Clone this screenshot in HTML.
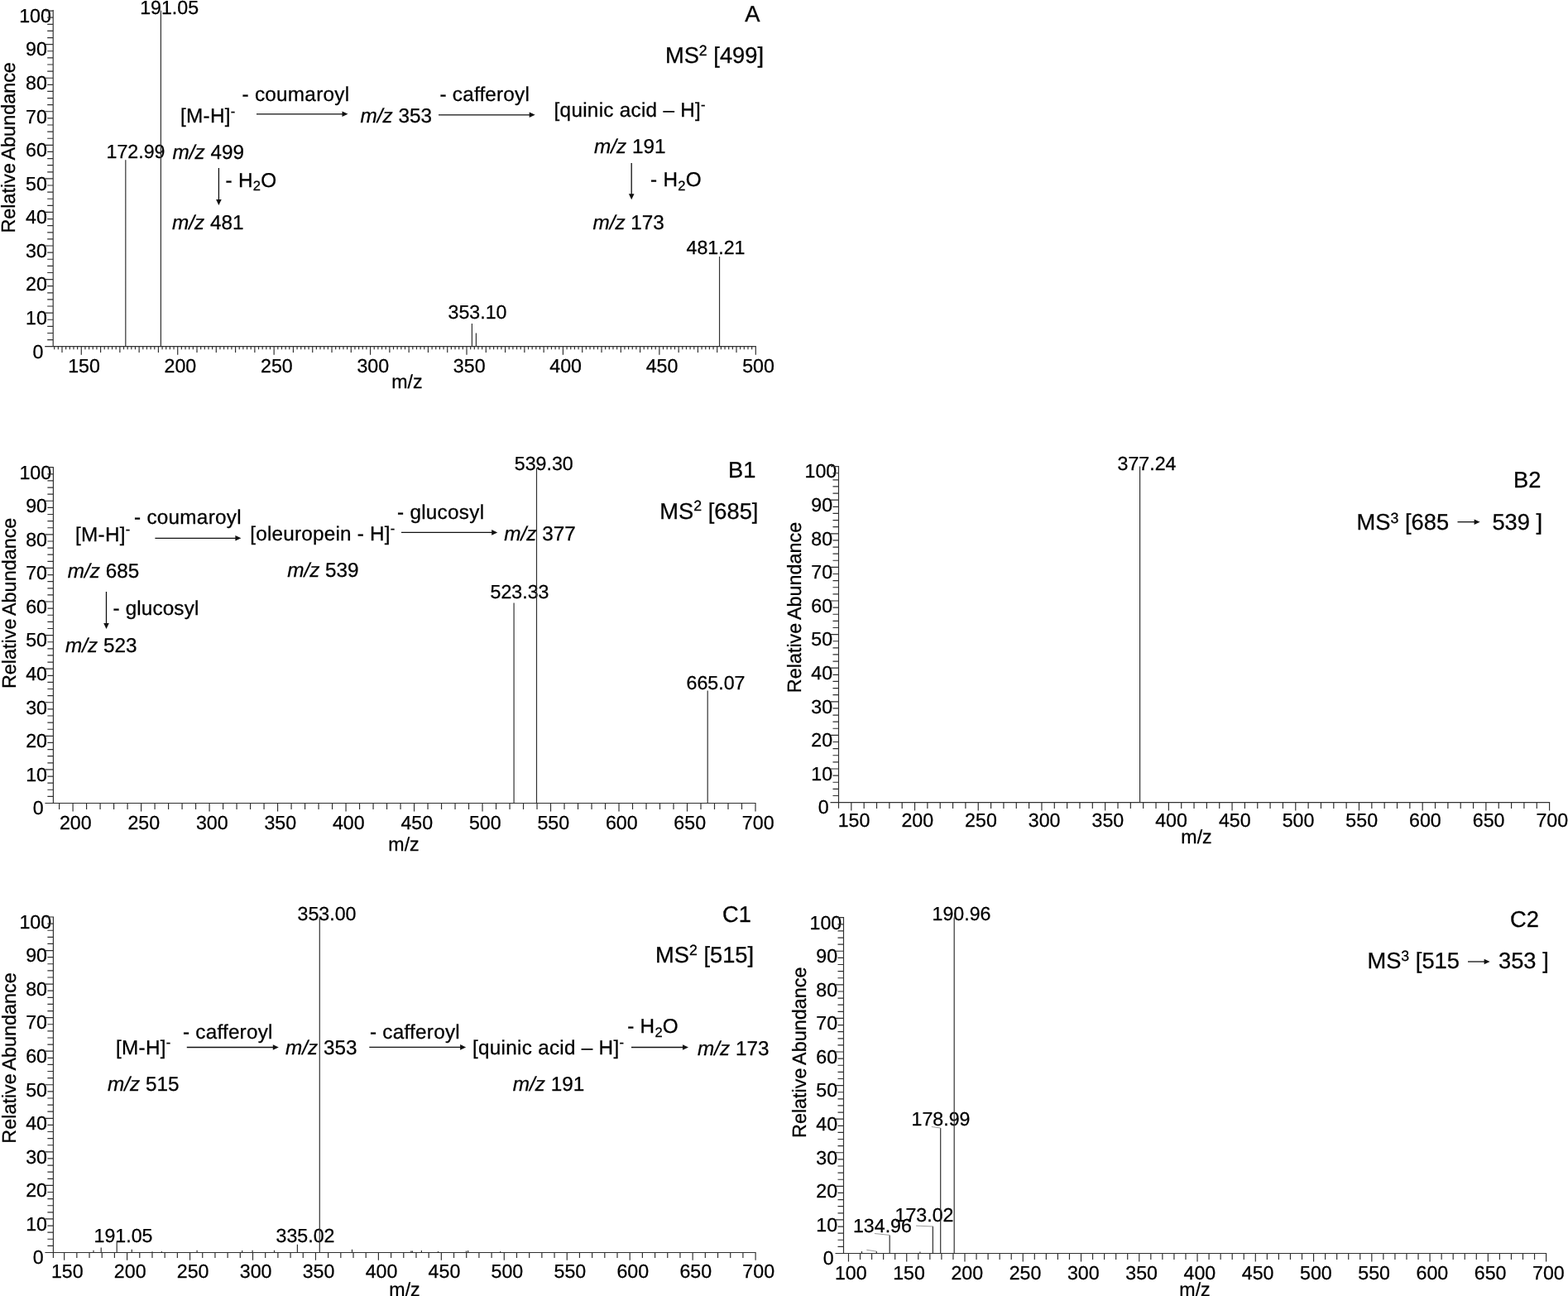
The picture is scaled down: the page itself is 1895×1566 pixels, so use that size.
<!DOCTYPE html>
<html lang="en">
<head>
<meta charset="utf-8">
<title>MS fragmentation spectra</title>
<style>
html, body { margin: 0; padding: 0; background: #ffffff; }
body { width: 1895px; height: 1566px; overflow: hidden; }
svg { display: block; font-family: "Liberation Sans", Arial, Helvetica, sans-serif; }
svg text { white-space: pre; fill: #000; stroke: #000; stroke-width: 0.28px; text-anchor: start; }
svg text.t { font-size: 23.2px; }
svg text.r { font-size: 23.4px; }
svg text.a { font-size: 24.3px; }
svg text.b { font-size: 27.3px; }
svg text.m { text-anchor: middle; }
svg i, svg .i { font-style: italic; }
</style>
</head>
<body>
<svg width="1895" height="1566" viewBox="0 0 1895 1566" shape-rendering="auto" text-rendering="geometricPrecision">
<rect x="0" y="0" width="1895" height="1566" fill="#ffffff"/>
<text class="t" transform="translate(39.5 432.5)">0</text>
<text class="t" transform="translate(31 391.94)">10</text>
<text class="t" transform="translate(31 351.38)">20</text>
<text class="t" transform="translate(31 310.82)">30</text>
<text class="t" transform="translate(31 270.26)">40</text>
<text class="t" transform="translate(31 229.7)">50</text>
<text class="t" transform="translate(31 189.14)">60</text>
<text class="t" transform="translate(31 148.58)">70</text>
<text class="t" transform="translate(31 108.02)">80</text>
<text class="t" transform="translate(31 67.46)">90</text>
<text class="t" transform="translate(23.2 26.9)">100</text>
<text class="t m" transform="translate(101.49 450.2)">150</text>
<text class="t m" transform="translate(217.92 450.2)">200</text>
<text class="t m" transform="translate(334.35 450.2)">250</text>
<text class="t m" transform="translate(450.78 450.2)">300</text>
<text class="t m" transform="translate(567.21 450.2)">350</text>
<text class="t m" transform="translate(683.64 450.2)">400</text>
<text class="t m" transform="translate(800.07 450.2)">450</text>
<text class="t m" transform="translate(916.5 450.2)">500</text>
<text class="t m" transform="translate(491.8 468.8)">m/z</text>
<text class="r" transform="translate(18.3 281.6) rotate(-90)">Relative <tspan dx="-1.6">Abundance</tspan></text>
<text class="t m" transform="translate(164 190.6)">172.99</text>
<text class="t m" transform="translate(204.6 17)">191.05</text>
<text class="t m" transform="translate(577 385)">353.10</text>
<text class="t m" transform="translate(865 307)">481.21</text>
<path class="axes" d="M64.2 12V419.3M54.2 418.7H913.9M57.2 410.59H64.2M57.2 402.48H64.2M57.2 394.36H64.2M57.2 386.25H64.2M54.7 378.14H64.2M57.2 370.03H64.2M57.2 361.92H64.2M57.2 353.8H64.2M57.2 345.69H64.2M54.7 337.58H64.2M57.2 329.47H64.2M57.2 321.36H64.2M57.2 313.24H64.2M57.2 305.13H64.2M54.7 297.02H64.2M57.2 288.91H64.2M57.2 280.8H64.2M57.2 272.68H64.2M57.2 264.57H64.2M54.7 256.46H64.2M57.2 248.35H64.2M57.2 240.24H64.2M57.2 232.12H64.2M57.2 224.01H64.2M54.7 215.9H64.2M57.2 207.79H64.2M57.2 199.68H64.2M57.2 191.56H64.2M57.2 183.45H64.2M54.7 175.34H64.2M57.2 167.23H64.2M57.2 159.12H64.2M57.2 151H64.2M57.2 142.89H64.2M54.7 134.78H64.2M57.2 126.67H64.2M57.2 118.56H64.2M57.2 110.44H64.2M57.2 102.33H64.2M54.7 94.22H64.2M57.2 86.11H64.2M57.2 78H64.2M57.2 69.88H64.2M57.2 61.77H64.2M54.7 53.66H64.2M57.2 45.55H64.2M57.2 37.44H64.2M57.2 29.32H64.2M57.2 21.21H64.2M54.7 13.1H64.2M65.69 418.7V422.3M70.35 418.7V422.3M75 418.7V426.1M79.66 418.7V422.3M84.32 418.7V422.3M88.98 418.7V422.3M93.63 418.7V422.3M98.29 418.7V428.7M102.95 418.7V422.3M107.6 418.7V422.3M112.26 418.7V422.3M116.92 418.7V422.3M121.58 418.7V426.1M126.23 418.7V422.3M130.89 418.7V422.3M135.55 418.7V422.3M140.2 418.7V422.3M144.86 418.7V426.1M149.52 418.7V422.3M154.18 418.7V422.3M158.83 418.7V422.3M163.49 418.7V422.3M168.15 418.7V426.1M172.81 418.7V422.3M177.46 418.7V422.3M182.12 418.7V422.3M186.78 418.7V422.3M191.43 418.7V426.1M196.09 418.7V422.3M200.75 418.7V422.3M205.41 418.7V422.3M210.06 418.7V422.3M214.72 418.7V428.7M219.38 418.7V422.3M224.03 418.7V422.3M228.69 418.7V422.3M233.35 418.7V422.3M238.01 418.7V426.1M242.66 418.7V422.3M247.32 418.7V422.3M251.98 418.7V422.3M256.63 418.7V422.3M261.29 418.7V426.1M265.95 418.7V422.3M270.61 418.7V422.3M275.26 418.7V422.3M279.92 418.7V422.3M284.58 418.7V426.1M289.24 418.7V422.3M293.89 418.7V422.3M298.55 418.7V422.3M303.21 418.7V422.3M307.86 418.7V426.1M312.52 418.7V422.3M317.18 418.7V422.3M321.84 418.7V422.3M326.49 418.7V422.3M331.15 418.7V428.7M335.81 418.7V422.3M340.46 418.7V422.3M345.12 418.7V422.3M349.78 418.7V422.3M354.44 418.7V426.1M359.09 418.7V422.3M363.75 418.7V422.3M368.41 418.7V422.3M373.06 418.7V422.3M377.72 418.7V426.1M382.38 418.7V422.3M387.04 418.7V422.3M391.69 418.7V422.3M396.35 418.7V422.3M401.01 418.7V426.1M405.67 418.7V422.3M410.32 418.7V422.3M414.98 418.7V422.3M419.64 418.7V422.3M424.29 418.7V426.1M428.95 418.7V422.3M433.61 418.7V422.3M438.27 418.7V422.3M442.92 418.7V422.3M447.58 418.7V428.7M452.24 418.7V422.3M456.89 418.7V422.3M461.55 418.7V422.3M466.21 418.7V422.3M470.87 418.7V426.1M475.52 418.7V422.3M480.18 418.7V422.3M484.84 418.7V422.3M489.49 418.7V422.3M494.15 418.7V426.1M498.81 418.7V422.3M503.47 418.7V422.3M508.12 418.7V422.3M512.78 418.7V422.3M517.44 418.7V426.1M522.1 418.7V422.3M526.75 418.7V422.3M531.41 418.7V422.3M536.07 418.7V422.3M540.72 418.7V426.1M545.38 418.7V422.3M550.04 418.7V422.3M554.7 418.7V422.3M559.35 418.7V422.3M564.01 418.7V428.7M568.67 418.7V422.3M573.32 418.7V422.3M577.98 418.7V422.3M582.64 418.7V422.3M587.3 418.7V426.1M591.95 418.7V422.3M596.61 418.7V422.3M601.27 418.7V422.3M605.92 418.7V422.3M610.58 418.7V426.1M615.24 418.7V422.3M619.9 418.7V422.3M624.55 418.7V422.3M629.21 418.7V422.3M633.87 418.7V426.1M638.53 418.7V422.3M643.18 418.7V422.3M647.84 418.7V422.3M652.5 418.7V422.3M657.15 418.7V426.1M661.81 418.7V422.3M666.47 418.7V422.3M671.13 418.7V422.3M675.78 418.7V422.3M680.44 418.7V428.7M685.1 418.7V422.3M689.75 418.7V422.3M694.41 418.7V422.3M699.07 418.7V422.3M703.73 418.7V426.1M708.38 418.7V422.3M713.04 418.7V422.3M717.7 418.7V422.3M722.35 418.7V422.3M727.01 418.7V426.1M731.67 418.7V422.3M736.33 418.7V422.3M740.98 418.7V422.3M745.64 418.7V422.3M750.3 418.7V426.1M754.96 418.7V422.3M759.61 418.7V422.3M764.27 418.7V422.3M768.93 418.7V422.3M773.58 418.7V426.1M778.24 418.7V422.3M782.9 418.7V422.3M787.56 418.7V422.3M792.21 418.7V422.3M796.87 418.7V428.7M801.53 418.7V422.3M806.18 418.7V422.3M810.84 418.7V422.3M815.5 418.7V422.3M820.16 418.7V426.1M824.81 418.7V422.3M829.47 418.7V422.3M834.13 418.7V422.3M838.78 418.7V422.3M843.44 418.7V426.1M848.1 418.7V422.3M852.76 418.7V422.3M857.41 418.7V422.3M862.07 418.7V422.3M866.73 418.7V426.1M871.39 418.7V422.3M876.04 418.7V422.3M880.7 418.7V422.3M885.36 418.7V422.3M890.01 418.7V426.1M894.67 418.7V422.3M899.33 418.7V422.3M903.99 418.7V422.3M908.64 418.7V422.3M913.3 418.7V428.7M151.82 193.19V418.7M570.41 391.12V418.7M575.42 402.48V418.7M869.55 310V418.7M194.4 12.8V418.7" fill="none" stroke="#303030" stroke-width="1.18"/>
<text class="a" transform="translate(218 148.3)" letter-spacing="0.27">[M-H]<tspan font-size="0.68em" dy="-0.529em">-</tspan></text>
<text class="a" transform="translate(292.5 122)" letter-spacing="0.27">- coumaroyl</text>
<polygon points="420.50,137.80 413.50,134.50 413.50,141.10" fill="#111"/>
<text class="a" transform="translate(435.5 148)"><tspan class="i">m/z</tspan> 353</text>
<text class="a" transform="translate(531.6 121.7)" letter-spacing="0.2">- cafferoyl</text>
<polygon points="646.70,138.80 639.70,135.50 639.70,142.10" fill="#111"/>
<text class="a" transform="translate(669.6 141)" letter-spacing="0.27">[quinic acid – H]<tspan font-size="0.68em" dy="-0.529em">-</tspan></text>
<text class="a" transform="translate(208.6 192.3)"><tspan class="i">m/z</tspan> 499</text>
<polygon points="264.40,248.10 261.10,241.10 267.70,241.10" fill="#111"/>
<text class="a" transform="translate(272.6 225.6)" letter-spacing="0.27">- H<tspan font-size="0.68em" dy="0.294em">2</tspan><tspan dy="-0.200em">O</tspan></text>
<text class="a" transform="translate(208 277)"><tspan class="i">m/z</tspan> 481</text>
<text class="a" transform="translate(718 185.2)"><tspan class="i">m/z</tspan> 191</text>
<polygon points="763.20,241.30 759.90,234.30 766.50,234.30" fill="#111"/>
<text class="a" transform="translate(786 225.2)" letter-spacing="0.27">- H<tspan font-size="0.68em" dy="0.294em">2</tspan><tspan dy="-0.200em">O</tspan></text>
<text class="a" transform="translate(716.4 276.8)"><tspan class="i">m/z</tspan> 173</text>
<text class="b" transform="translate(900.2 25.8)">A</text>
<text class="b" transform="translate(803.9 75.7)">MS<tspan font-size="0.65em" dy="-0.515em">2</tspan><tspan dy="0.335em"> [499]</tspan></text>
<text class="t" transform="translate(39.7 984.3)">0</text>
<text class="t" transform="translate(31.2 943.72)">10</text>
<text class="t" transform="translate(31.2 903.14)">20</text>
<text class="t" transform="translate(31.2 862.56)">30</text>
<text class="t" transform="translate(31.2 821.98)">40</text>
<text class="t" transform="translate(31.2 781.4)">50</text>
<text class="t" transform="translate(31.2 740.82)">60</text>
<text class="t" transform="translate(31.2 700.24)">70</text>
<text class="t" transform="translate(31.2 659.66)">80</text>
<text class="t" transform="translate(31.2 619.08)">90</text>
<text class="t" transform="translate(23.4 578.5)">100</text>
<text class="t m" transform="translate(91.3 1001.8)">200</text>
<text class="t m" transform="translate(173.79 1001.8)">250</text>
<text class="t m" transform="translate(256.28 1001.8)">300</text>
<text class="t m" transform="translate(338.77 1001.8)">350</text>
<text class="t m" transform="translate(421.26 1001.8)">400</text>
<text class="t m" transform="translate(503.75 1001.8)">450</text>
<text class="t m" transform="translate(586.24 1001.8)">500</text>
<text class="t m" transform="translate(668.73 1001.8)">550</text>
<text class="t m" transform="translate(751.22 1001.8)">600</text>
<text class="t m" transform="translate(833.71 1001.8)">650</text>
<text class="t m" transform="translate(916.2 1001.8)">700</text>
<text class="t m" transform="translate(488 1028)">m/z</text>
<text class="r" transform="translate(18.5 832.1) rotate(-90)">Relative <tspan dx="-1.6">Abundance</tspan></text>
<text class="t m" transform="translate(628 723)">523.33</text>
<text class="t m" transform="translate(657.2 568.3)">539.30</text>
<text class="t m" transform="translate(865 833)">665.07</text>
<path class="axes" d="M310 137.8H414.5M530 138.8H640.7M264.4 203V242.1M763.2 197V235.3" fill="none" stroke="#111" stroke-width="1.3"/>
<path class="axes" d="M64.4 564.2V971.1M54.4 970.5H913.6M57.4 962.38H64.4M57.4 954.27H64.4M57.4 946.15H64.4M57.4 938.04H64.4M54.9 929.92H64.4M57.4 921.8H64.4M57.4 913.69H64.4M57.4 905.57H64.4M57.4 897.46H64.4M54.9 889.34H64.4M57.4 881.22H64.4M57.4 873.11H64.4M57.4 864.99H64.4M57.4 856.88H64.4M54.9 848.76H64.4M57.4 840.64H64.4M57.4 832.53H64.4M57.4 824.41H64.4M57.4 816.3H64.4M54.9 808.18H64.4M57.4 800.06H64.4M57.4 791.95H64.4M57.4 783.83H64.4M57.4 775.72H64.4M54.9 767.6H64.4M57.4 759.48H64.4M57.4 751.37H64.4M57.4 743.25H64.4M57.4 735.14H64.4M54.9 727.02H64.4M57.4 718.9H64.4M57.4 710.79H64.4M57.4 702.67H64.4M57.4 694.56H64.4M54.9 686.44H64.4M57.4 678.32H64.4M57.4 670.21H64.4M57.4 662.09H64.4M57.4 653.98H64.4M54.9 645.86H64.4M57.4 637.74H64.4M57.4 629.63H64.4M57.4 621.51H64.4M57.4 613.4H64.4M54.9 605.28H64.4M57.4 597.16H64.4M57.4 589.05H64.4M57.4 580.93H64.4M57.4 572.82H64.4M54.9 564.7H64.4M71.6 970.5V977.9M88.1 970.5V980.5M104.6 970.5V977.9M121.1 970.5V977.9M137.59 970.5V977.9M154.09 970.5V977.9M170.59 970.5V980.5M187.09 970.5V977.9M203.59 970.5V977.9M220.08 970.5V977.9M236.58 970.5V977.9M253.08 970.5V980.5M269.58 970.5V977.9M286.08 970.5V977.9M302.57 970.5V977.9M319.07 970.5V977.9M335.57 970.5V980.5M352.07 970.5V977.9M368.57 970.5V977.9M385.06 970.5V977.9M401.56 970.5V977.9M418.06 970.5V980.5M434.56 970.5V977.9M451.06 970.5V977.9M467.55 970.5V977.9M484.05 970.5V977.9M500.55 970.5V980.5M517.05 970.5V977.9M533.55 970.5V977.9M550.04 970.5V977.9M566.54 970.5V977.9M583.04 970.5V980.5M599.54 970.5V977.9M616.04 970.5V977.9M632.53 970.5V977.9M649.03 970.5V977.9M665.53 970.5V980.5M682.03 970.5V977.9M698.53 970.5V977.9M715.02 970.5V977.9M731.52 970.5V977.9M748.02 970.5V980.5M764.52 970.5V977.9M781.02 970.5V977.9M797.51 970.5V977.9M814.01 970.5V977.9M830.51 970.5V980.5M847.01 970.5V977.9M863.51 970.5V977.9M880 970.5V977.9M896.5 970.5V977.9M913 970.5V980.5M621.1 728.4V970.5M648.5 565.4V970.5M855.2 834.5V970.5" fill="none" stroke="#303030" stroke-width="1.18"/>
<text class="a" transform="translate(91 653.5)" letter-spacing="0.27">[M-H]<tspan font-size="0.68em" dy="-0.529em">-</tspan></text>
<text class="a" transform="translate(162 633.2)" letter-spacing="0.27">- coumaroyl</text>
<polygon points="291.40,650.30 284.40,647.00 284.40,653.60" fill="#111"/>
<text class="a" transform="translate(302.3 653.2)" letter-spacing="0.2">[oleuropein - H]<tspan font-size="0.68em" dy="-0.529em">-</tspan></text>
<text class="a" transform="translate(480 627)" letter-spacing="0.27">- glucosyl</text>
<polygon points="601.20,643.40 594.20,640.10 594.20,646.70" fill="#111"/>
<text class="a" transform="translate(609.3 653.2)"><tspan class="i">m/z</tspan> 377</text>
<text class="a" transform="translate(81.8 697.5)"><tspan class="i">m/z</tspan> 685</text>
<text class="a" transform="translate(347.2 697.4)"><tspan class="i">m/z</tspan> 539</text>
<polygon points="128.50,760.00 125.20,753.00 131.80,753.00" fill="#111"/>
<text class="a" transform="translate(136.6 743.2)" letter-spacing="0.12">- glucosyl</text>
<text class="a" transform="translate(79 788)"><tspan class="i">m/z</tspan> 523</text>
<text class="b" transform="translate(880 576.6)">B1</text>
<text class="b" transform="translate(797.3 626.5)">MS<tspan font-size="0.65em" dy="-0.515em">2</tspan><tspan dy="0.335em"> [685]</tspan></text>
<text class="t" transform="translate(988.8 983.4)">0</text>
<text class="t" transform="translate(980.3 942.8)">10</text>
<text class="t" transform="translate(980.3 902.2)">20</text>
<text class="t" transform="translate(980.3 861.6)">30</text>
<text class="t" transform="translate(980.3 821)">40</text>
<text class="t" transform="translate(980.3 780.4)">50</text>
<text class="t" transform="translate(980.3 739.8)">60</text>
<text class="t" transform="translate(980.3 699.2)">70</text>
<text class="t" transform="translate(980.3 658.6)">80</text>
<text class="t" transform="translate(980.3 618)">90</text>
<text class="t" transform="translate(972.5 577.4)">100</text>
<text class="t m" transform="translate(1032.04 999.3)">150</text>
<text class="t m" transform="translate(1108.75 999.3)">200</text>
<text class="t m" transform="translate(1185.45 999.3)">250</text>
<text class="t m" transform="translate(1262.16 999.3)">300</text>
<text class="t m" transform="translate(1338.87 999.3)">350</text>
<text class="t m" transform="translate(1415.57 999.3)">400</text>
<text class="t m" transform="translate(1492.27 999.3)">450</text>
<text class="t m" transform="translate(1568.98 999.3)">500</text>
<text class="t m" transform="translate(1645.68 999.3)">550</text>
<text class="t m" transform="translate(1722.39 999.3)">600</text>
<text class="t m" transform="translate(1799.1 999.3)">650</text>
<text class="t m" transform="translate(1875.8 999.3)">700</text>
<text class="t m" transform="translate(1446 1019)">m/z</text>
<text class="r" transform="translate(967.6 837.2) rotate(-90)">Relative <tspan dx="-1.6">Abundance</tspan></text>
<text class="t m" transform="translate(1386 568)">377.24</text>
<path class="axes" d="M187.4 650.3H285.4M485 643.4H595.2M128.5 715V754" fill="none" stroke="#111" stroke-width="1.3"/>
<path class="axes" d="M1013.5 563V976.8M1003.5 969.6H1873.2M1006.5 961.48H1013.5M1006.5 953.36H1013.5M1006.5 945.24H1013.5M1006.5 937.12H1013.5M1004 929H1013.5M1006.5 920.88H1013.5M1006.5 912.76H1013.5M1006.5 904.64H1013.5M1006.5 896.52H1013.5M1004 888.4H1013.5M1006.5 880.28H1013.5M1006.5 872.16H1013.5M1006.5 864.04H1013.5M1006.5 855.92H1013.5M1004 847.8H1013.5M1006.5 839.68H1013.5M1006.5 831.56H1013.5M1006.5 823.44H1013.5M1006.5 815.32H1013.5M1004 807.2H1013.5M1006.5 799.08H1013.5M1006.5 790.96H1013.5M1006.5 782.84H1013.5M1006.5 774.72H1013.5M1004 766.6H1013.5M1006.5 758.48H1013.5M1006.5 750.36H1013.5M1006.5 742.24H1013.5M1006.5 734.12H1013.5M1004 726H1013.5M1006.5 717.88H1013.5M1006.5 709.76H1013.5M1006.5 701.64H1013.5M1006.5 693.52H1013.5M1004 685.4H1013.5M1006.5 677.28H1013.5M1006.5 669.16H1013.5M1006.5 661.04H1013.5M1006.5 652.92H1013.5M1004 644.8H1013.5M1006.5 636.68H1013.5M1006.5 628.56H1013.5M1006.5 620.44H1013.5M1006.5 612.32H1013.5M1004 604.2H1013.5M1006.5 596.08H1013.5M1006.5 587.96H1013.5M1006.5 579.84H1013.5M1006.5 571.72H1013.5M1004 563.6H1013.5M1028.84 969.6V979.6M1044.19 969.6V977M1059.53 969.6V977M1074.87 969.6V977M1090.21 969.6V977M1105.55 969.6V979.6M1120.89 969.6V977M1136.23 969.6V977M1151.57 969.6V977M1166.91 969.6V977M1182.25 969.6V979.6M1197.6 969.6V977M1212.94 969.6V977M1228.28 969.6V977M1243.62 969.6V977M1258.96 969.6V979.6M1274.3 969.6V977M1289.64 969.6V977M1304.98 969.6V977M1320.32 969.6V977M1335.66 969.6V979.6M1351.01 969.6V977M1366.35 969.6V977M1381.69 969.6V977M1397.03 969.6V977M1412.37 969.6V979.6M1427.71 969.6V977M1443.05 969.6V977M1458.39 969.6V977M1473.73 969.6V977M1489.07 969.6V979.6M1504.42 969.6V977M1519.76 969.6V977M1535.1 969.6V977M1550.44 969.6V977M1565.78 969.6V979.6M1581.12 969.6V977M1596.46 969.6V977M1611.8 969.6V977M1627.14 969.6V977M1642.48 969.6V979.6M1657.83 969.6V977M1673.17 969.6V977M1688.51 969.6V977M1703.85 969.6V977M1719.19 969.6V979.6M1734.53 969.6V977M1749.87 969.6V977M1765.21 969.6V977M1780.55 969.6V977M1795.89 969.6V979.6M1811.24 969.6V977M1826.58 969.6V977M1841.92 969.6V977M1857.26 969.6V977M1872.6 969.6V979.6M1377.6 563.5V969.6" fill="none" stroke="#303030" stroke-width="1.18"/>
<text class="b" transform="translate(1829 589.2)">B2</text>
<text class="b" transform="translate(1639.6 639.5)">MS<tspan font-size="0.65em" dy="-0.415em">3</tspan><tspan dy="0.270em"> [685</tspan></text>
<polygon points="1788.60,630.70 1781.60,627.40 1781.60,634.00" fill="#111"/>
<text class="b" transform="translate(1803.4 639.5)">539 ]</text>
<text class="t" transform="translate(39.7 1527.3)">0</text>
<text class="t" transform="translate(31.2 1486.75)">10</text>
<text class="t" transform="translate(31.2 1446.2)">20</text>
<text class="t" transform="translate(31.2 1405.65)">30</text>
<text class="t" transform="translate(31.2 1365.1)">40</text>
<text class="t" transform="translate(31.2 1324.55)">50</text>
<text class="t" transform="translate(31.2 1284)">60</text>
<text class="t" transform="translate(31.2 1243.45)">70</text>
<text class="t" transform="translate(31.2 1202.9)">80</text>
<text class="t" transform="translate(31.2 1162.35)">90</text>
<text class="t" transform="translate(23.4 1121.8)">100</text>
<text class="t m" transform="translate(81.25 1543.7)">150</text>
<text class="t m" transform="translate(157.2 1543.7)">200</text>
<text class="t m" transform="translate(233.15 1543.7)">250</text>
<text class="t m" transform="translate(309.1 1543.7)">300</text>
<text class="t m" transform="translate(385.05 1543.7)">350</text>
<text class="t m" transform="translate(461 1543.7)">400</text>
<text class="t m" transform="translate(536.95 1543.7)">450</text>
<text class="t m" transform="translate(612.9 1543.7)">500</text>
<text class="t m" transform="translate(688.85 1543.7)">550</text>
<text class="t m" transform="translate(764.8 1543.7)">600</text>
<text class="t m" transform="translate(840.75 1543.7)">650</text>
<text class="t m" transform="translate(916.7 1543.7)">700</text>
<text class="t m" transform="translate(489 1565.5)">m/z</text>
<text class="r" transform="translate(18.5 1381.7) rotate(-90)">Relative <tspan dx="-1.6">Abundance</tspan></text>
<text class="t m" transform="translate(149 1501.2)">191.05</text>
<text class="t m" transform="translate(369 1501)">335.02</text>
<text class="t m" transform="translate(395 1112)">353.00</text>
<path class="axes" d="M1761.5 630.7H1782.6" fill="none" stroke="#111" stroke-width="1.3"/>
<path class="axes" d="M64.4 1107.5V1520M54.4 1513.5H913.7M57.4 1505.39H64.4M57.4 1497.28H64.4M57.4 1489.17H64.4M57.4 1481.06H64.4M54.9 1472.95H64.4M57.4 1464.84H64.4M57.4 1456.73H64.4M57.4 1448.62H64.4M57.4 1440.51H64.4M54.9 1432.4H64.4M57.4 1424.29H64.4M57.4 1416.18H64.4M57.4 1408.07H64.4M57.4 1399.96H64.4M54.9 1391.85H64.4M57.4 1383.74H64.4M57.4 1375.63H64.4M57.4 1367.52H64.4M57.4 1359.41H64.4M54.9 1351.3H64.4M57.4 1343.19H64.4M57.4 1335.08H64.4M57.4 1326.97H64.4M57.4 1318.86H64.4M54.9 1310.75H64.4M57.4 1302.64H64.4M57.4 1294.53H64.4M57.4 1286.42H64.4M57.4 1278.31H64.4M54.9 1270.2H64.4M57.4 1262.09H64.4M57.4 1253.98H64.4M57.4 1245.87H64.4M57.4 1237.76H64.4M54.9 1229.65H64.4M57.4 1221.54H64.4M57.4 1213.43H64.4M57.4 1205.32H64.4M57.4 1197.21H64.4M54.9 1189.1H64.4M57.4 1180.99H64.4M57.4 1172.88H64.4M57.4 1164.77H64.4M57.4 1156.66H64.4M54.9 1148.55H64.4M57.4 1140.44H64.4M57.4 1132.33H64.4M57.4 1124.22H64.4M57.4 1116.11H64.4M54.9 1108H64.4M77.65 1513.5V1522.8M92.84 1513.5V1520M108.03 1513.5V1520M123.22 1513.5V1520M138.41 1513.5V1520M153.6 1513.5V1522.8M168.79 1513.5V1520M183.98 1513.5V1520M199.17 1513.5V1520M214.36 1513.5V1520M229.55 1513.5V1522.8M244.74 1513.5V1520M259.93 1513.5V1520M275.12 1513.5V1520M290.31 1513.5V1520M305.5 1513.5V1522.8M320.69 1513.5V1520M335.88 1513.5V1520M351.07 1513.5V1520M366.26 1513.5V1520M381.45 1513.5V1522.8M396.64 1513.5V1520M411.83 1513.5V1520M427.02 1513.5V1520M442.21 1513.5V1520M457.4 1513.5V1522.8M472.59 1513.5V1520M487.78 1513.5V1520M502.97 1513.5V1520M518.16 1513.5V1520M533.35 1513.5V1522.8M548.54 1513.5V1520M563.73 1513.5V1520M578.92 1513.5V1520M594.11 1513.5V1520M609.3 1513.5V1522.8M624.49 1513.5V1520M639.68 1513.5V1520M654.87 1513.5V1520M670.06 1513.5V1520M685.25 1513.5V1522.8M700.44 1513.5V1520M715.63 1513.5V1520M730.82 1513.5V1520M746.01 1513.5V1520M761.2 1513.5V1522.8M776.39 1513.5V1520M791.58 1513.5V1520M806.77 1513.5V1520M821.96 1513.5V1520M837.15 1513.5V1522.8M852.34 1513.5V1520M867.53 1513.5V1520M882.72 1513.5V1520M897.91 1513.5V1520M913.1 1513.5V1522.8M386.3 1108V1513.5M141.2 1500.6V1513.5M359.4 1503.8V1513.5M122.2 1507.6V1513.5M113 1510.8V1513.5M159.3 1509.7V1513.5M184 1512.3V1513.5M195.4 1512V1513.5M238.1 1510.8V1513.5M292.7 1511V1513.5M305.1 1510.8V1513.5M331.5 1510.8V1513.5M425.5 1509.7V1513.5M496.8 1511.6V1513.5M498.4 1511.6V1513.5M509.4 1511V1513.5M529.5 1512V1513.5M563.5 1511.4V1513.5M565.6 1511V1513.5M604.7 1512V1513.5" fill="none" stroke="#303030" stroke-width="1.18"/>
<text class="a" transform="translate(140 1274.2)" letter-spacing="0.27">[M-H]<tspan font-size="0.68em" dy="-0.529em">-</tspan></text>
<text class="a" transform="translate(221 1255)" letter-spacing="0.22">- cafferoyl</text>
<polygon points="336.80,1265.50 329.80,1262.20 329.80,1268.80" fill="#111"/>
<text class="a" transform="translate(345 1274.2)"><tspan class="i">m/z</tspan> 353</text>
<text class="a" transform="translate(447 1255)" letter-spacing="0.25">- cafferoyl</text>
<polygon points="563.10,1265.40 556.10,1262.10 556.10,1268.70" fill="#111"/>
<text class="a" transform="translate(571 1274.2)" letter-spacing="0.27">[quinic acid – H]<tspan font-size="0.68em" dy="-0.529em">-</tspan></text>
<text class="a" transform="translate(758.2 1247.8)" letter-spacing="0.27">- H<tspan font-size="0.68em" dy="0.294em">2</tspan><tspan dy="-0.200em">O</tspan></text>
<polygon points="832.00,1265.50 825.00,1262.20 825.00,1268.80" fill="#111"/>
<text class="a" transform="translate(843 1275)"><tspan class="i">m/z</tspan> 173</text>
<text class="a" transform="translate(130 1318)"><tspan class="i">m/z</tspan> 515</text>
<text class="a" transform="translate(619.8 1318.2)"><tspan class="i">m/z</tspan> 191</text>
<text class="b" transform="translate(873 1113.8)">C1</text>
<text class="b" transform="translate(792 1163)">MS<tspan font-size="0.65em" dy="-0.515em">2</tspan><tspan dy="0.335em"> [515]</tspan></text>
<text class="t" transform="translate(994.8 1528.3)">0</text>
<text class="t" transform="translate(986.3 1487.72)">10</text>
<text class="t" transform="translate(986.3 1447.14)">20</text>
<text class="t" transform="translate(986.3 1406.56)">30</text>
<text class="t" transform="translate(986.3 1365.98)">40</text>
<text class="t" transform="translate(986.3 1325.4)">50</text>
<text class="t" transform="translate(986.3 1284.82)">60</text>
<text class="t" transform="translate(986.3 1244.24)">70</text>
<text class="t" transform="translate(986.3 1203.66)">80</text>
<text class="t" transform="translate(986.3 1163.08)">90</text>
<text class="t" transform="translate(978.5 1122.5)">100</text>
<text class="t m" transform="translate(1028.28 1545.6)">100</text>
<text class="t m" transform="translate(1098.54 1545.6)">150</text>
<text class="t m" transform="translate(1168.8 1545.6)">200</text>
<text class="t m" transform="translate(1239.06 1545.6)">250</text>
<text class="t m" transform="translate(1309.32 1545.6)">300</text>
<text class="t m" transform="translate(1379.58 1545.6)">350</text>
<text class="t m" transform="translate(1449.84 1545.6)">400</text>
<text class="t m" transform="translate(1520.1 1545.6)">450</text>
<text class="t m" transform="translate(1590.36 1545.6)">500</text>
<text class="t m" transform="translate(1660.62 1545.6)">550</text>
<text class="t m" transform="translate(1730.88 1545.6)">600</text>
<text class="t m" transform="translate(1801.14 1545.6)">650</text>
<text class="t m" transform="translate(1871.4 1545.6)">700</text>
<text class="t m" transform="translate(1444 1565.5)">m/z</text>
<text class="r" transform="translate(973.6 1375) rotate(-90)">Relative <tspan dx="-1.6">Abundance</tspan></text>
<text class="t m" transform="translate(1162 1112.2)">190.96</text>
<text class="t m" transform="translate(1137 1360)">178.99</text>
<text class="t m" transform="translate(1117 1475.9)">173.02</text>
<text class="t m" transform="translate(1066.4 1489.3)">134.96</text>
<path class="axes" d="M225.8 1265.5H330.8M446.3 1265.4H557.1M763 1265.5H826" fill="none" stroke="#111" stroke-width="1.3"/>
<path class="axes" d="M1019.5 1108V1515.1M1009.5 1514.5H1869.2M1012.5 1506.38H1019.5M1012.5 1498.27H1019.5M1012.5 1490.15H1019.5M1012.5 1482.04H1019.5M1010 1473.92H1019.5M1012.5 1465.8H1019.5M1012.5 1457.69H1019.5M1012.5 1449.57H1019.5M1012.5 1441.46H1019.5M1010 1433.34H1019.5M1012.5 1425.22H1019.5M1012.5 1417.11H1019.5M1012.5 1408.99H1019.5M1012.5 1400.88H1019.5M1010 1392.76H1019.5M1012.5 1384.64H1019.5M1012.5 1376.53H1019.5M1012.5 1368.41H1019.5M1012.5 1360.3H1019.5M1010 1352.18H1019.5M1012.5 1344.06H1019.5M1012.5 1335.95H1019.5M1012.5 1327.83H1019.5M1012.5 1319.72H1019.5M1010 1311.6H1019.5M1012.5 1303.48H1019.5M1012.5 1295.37H1019.5M1012.5 1287.25H1019.5M1012.5 1279.14H1019.5M1010 1271.02H1019.5M1012.5 1262.9H1019.5M1012.5 1254.79H1019.5M1012.5 1246.67H1019.5M1012.5 1238.56H1019.5M1010 1230.44H1019.5M1012.5 1222.32H1019.5M1012.5 1214.21H1019.5M1012.5 1206.09H1019.5M1012.5 1197.98H1019.5M1010 1189.86H1019.5M1012.5 1181.74H1019.5M1012.5 1173.63H1019.5M1012.5 1165.51H1019.5M1012.5 1157.4H1019.5M1010 1149.28H1019.5M1012.5 1141.16H1019.5M1012.5 1133.05H1019.5M1012.5 1124.93H1019.5M1012.5 1116.82H1019.5M1010 1108.7H1019.5M1025.48 1514.5V1524.5M1039.53 1514.5V1521.9M1053.58 1514.5V1521.9M1067.64 1514.5V1521.9M1081.69 1514.5V1521.9M1095.74 1514.5V1524.5M1109.79 1514.5V1521.9M1123.84 1514.5V1521.9M1137.9 1514.5V1521.9M1151.95 1514.5V1521.9M1166 1514.5V1524.5M1180.05 1514.5V1521.9M1194.1 1514.5V1521.9M1208.16 1514.5V1521.9M1222.21 1514.5V1521.9M1236.26 1514.5V1524.5M1250.31 1514.5V1521.9M1264.36 1514.5V1521.9M1278.42 1514.5V1521.9M1292.47 1514.5V1521.9M1306.52 1514.5V1524.5M1320.57 1514.5V1521.9M1334.62 1514.5V1521.9M1348.68 1514.5V1521.9M1362.73 1514.5V1521.9M1376.78 1514.5V1524.5M1390.83 1514.5V1521.9M1404.88 1514.5V1521.9M1418.94 1514.5V1521.9M1432.99 1514.5V1521.9M1447.04 1514.5V1524.5M1461.09 1514.5V1521.9M1475.14 1514.5V1521.9M1489.2 1514.5V1521.9M1503.25 1514.5V1521.9M1517.3 1514.5V1524.5M1531.35 1514.5V1521.9M1545.4 1514.5V1521.9M1559.46 1514.5V1521.9M1573.51 1514.5V1521.9M1587.56 1514.5V1524.5M1601.61 1514.5V1521.9M1615.66 1514.5V1521.9M1629.72 1514.5V1521.9M1643.77 1514.5V1521.9M1657.82 1514.5V1524.5M1671.87 1514.5V1521.9M1685.92 1514.5V1521.9M1699.98 1514.5V1521.9M1714.03 1514.5V1521.9M1728.08 1514.5V1524.5M1742.13 1514.5V1521.9M1756.18 1514.5V1521.9M1770.24 1514.5V1521.9M1784.29 1514.5V1521.9M1798.34 1514.5V1524.5M1812.39 1514.5V1521.9M1826.44 1514.5V1521.9M1840.5 1514.5V1521.9M1854.55 1514.5V1521.9M1868.6 1514.5V1524.5M1153.2 1108.5V1514.5M1136.7 1363V1514.5M1127.4 1481.8V1514.5M1075.2 1492.6V1514.5M1059.3 1512.1V1514.5M1041.5 1512V1514.5M1111.9 1512.5V1514.5" fill="none" stroke="#303030" stroke-width="1.18"/>
<path class="axes" d="M1056.9 1490.5L1075.1 1492.4M1047.3 1510.3L1059.3 1512.1M1107.1 1481.1L1127.4 1482M1125.8 1361.5L1136.7 1363" fill="none" stroke="#9a9a9a" stroke-width="1.0"/>
<text class="b" transform="translate(1825 1120)">C2</text>
<text class="b" transform="translate(1652.4 1170.4)">MS<tspan font-size="0.65em" dy="-0.515em">3</tspan><tspan dy="0.335em"> [515</tspan></text>
<polygon points="1800.60,1162.00 1793.60,1158.70 1793.60,1165.30" fill="#111"/>
<text class="b" transform="translate(1811 1170.4)">353 ]</text>
<path class="arrow" d="M1774 1162H1794.6" fill="none" stroke="#111" stroke-width="1.3"/>
</svg>
</body>
</html>
